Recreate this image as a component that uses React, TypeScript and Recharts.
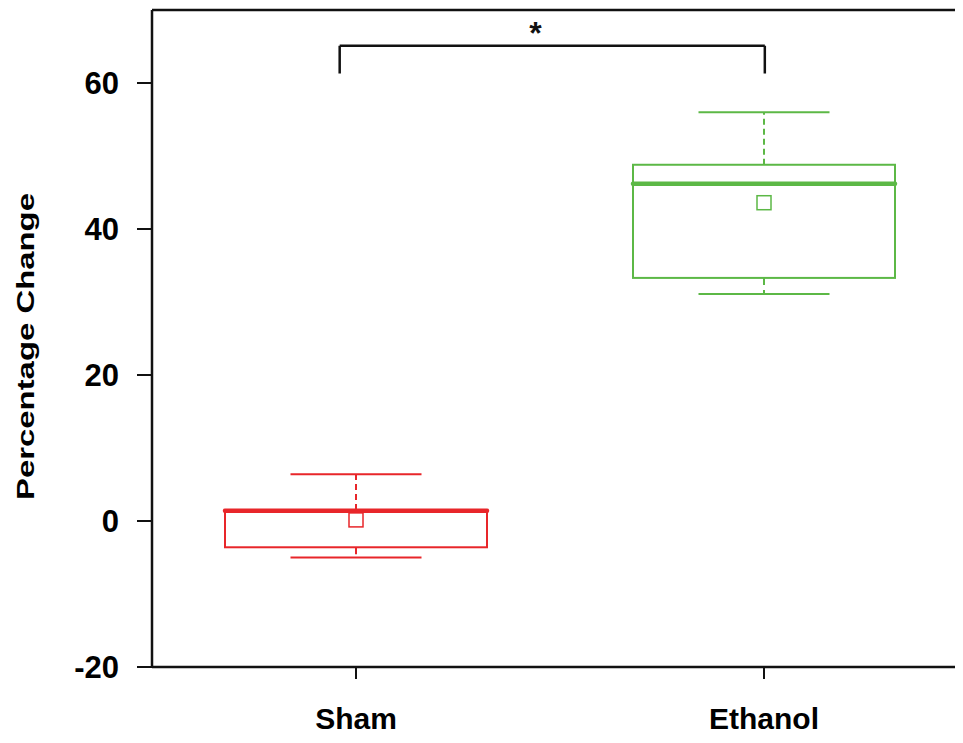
import React from 'react';
import { ComposedChart, Bar, XAxis, YAxis, ReferenceLine, ReferenceDot, Label } from 'recharts';

const categories = ['Sham', 'Ethanol'];
const categoryPos = [0.5, 1.5];
const whiskerLow = [-5.0, 31.1];
const q1 = [-3.6, 33.3];
const median = [1.4, 46.2];
const q3 = [1.5, 48.8];
const whiskerHigh = [6.4, 56.0];
const means = [0.15, 43.6];
const colors = ['#E8262A', '#5CB846'];
const yTicks = [-20, 0, 20, 40, 60];
const yDomain = [-20, 70];
const posDomain = [0, 2];

const bracketX = [0.46, 1.502];
const bracketY = 65.1;
const bracketLegY = 61.3;
const starX = 0.94;
const starY = 65.4;

const data = categories.map((name, i) => ({
  name,
  pos: categoryPos[i],
  range: [whiskerLow[i], whiskerHigh[i]],
  low: whiskerLow[i],
  high: whiskerHigh[i],
  q1: q1[i],
  q3: q3[i],
  median: median[i],
  mean: means[i],
  color: colors[i],
}));

const FONT = '"Liberation Sans", Arial, Helvetica, sans-serif';

const BoxShape = (props: any) => {
  const { x, y, width, height } = props;
  const p = props.payload ?? props;
  const top = Math.min(y, y + height);
  const bot = Math.max(y, y + height);
  const hi = p.high;
  const lo = p.low;
  const pix = (v: number) => top + ((hi - v) / (hi - lo)) * (bot - top);
  const cx = x + width / 2;
  const c = p.color;
  const capW = width / 2;
  const yQ1 = pix(p.q1);
  const yQ3 = pix(p.q3);
  const yMed = pix(p.median);
  const yMean = pix(p.mean);
  const yHi = pix(hi);
  const yLo = pix(lo);
  const sq = 14;
  return (
    <g>
      <rect x={x} y={yQ3} width={width} height={yQ1 - yQ3} fill="none" stroke={c} strokeWidth={2} />
      <line x1={cx} x2={cx} y1={yQ3} y2={yHi} stroke={c} strokeWidth={2} strokeDasharray="6 4" />
      <line x1={cx} x2={cx} y1={yQ1} y2={yLo} stroke={c} strokeWidth={2} strokeDasharray="7 5" />
      <line x1={cx - capW / 2} x2={cx + capW / 2} y1={yHi} y2={yHi} stroke={c} strokeWidth={2} />
      <line x1={cx - capW / 2} x2={cx + capW / 2} y1={yLo} y2={yLo} stroke={c} strokeWidth={2} />
      <line x1={x} x2={x + width} y1={yMed} y2={yMed} stroke={c} strokeWidth={4.5} strokeLinecap="round" />
      <rect x={cx - sq / 2} y={yMean - sq / 2} width={sq} height={sq} fill="none" stroke={c} strokeWidth={1.5} />
    </g>
  );
};

const axisStroke = { stroke: '#111', strokeWidth: 2.5 };
const tickStroke = { stroke: '#111', strokeWidth: 2 };

export default function App() {
  return (
    <div style={{ width: 955, height: 735, marginBottom: -8, overflow: 'hidden' }}>
      <ComposedChart width={960} height={735} data={data} margin={{ top: 2, right: 0, bottom: 0, left: 0 }}>
        <XAxis
          xAxisId="cat"
          dataKey="name"
          type="category"
          height={76}
          tickSize={12}
          tickMargin={29}
          axisLine={axisStroke}
          tickLine={tickStroke}
          tick={{ fill: '#000', fontSize: 30, fontWeight: 'bold', fontFamily: FONT }}
        />
        <XAxis xAxisId="num" dataKey="pos" type="number" domain={posDomain} allowDataOverflow hide />
        <YAxis
          yAxisId="y"
          type="number"
          domain={yDomain}
          ticks={yTicks}
          allowDataOverflow
          width={144}
          tickSize={15}
          tickMargin={18}
          axisLine={axisStroke}
          tickLine={tickStroke}
          tick={{ fill: '#000', fontSize: 31, fontWeight: 'bold', fontFamily: FONT }}
        >
          <Label
            content={(lp: any) => {
              const vb = lp.viewBox || {};
              const lx = 17;
              const ly = (vb.y ?? 2) + (vb.height ?? 657) / 2 + 8;
              return (
                <text
                  x={lx}
                  y={ly}
                  transform={`rotate(-90 ${lx} ${ly})`}
                  textAnchor="middle"
                  dominantBaseline="central"
                  fontFamily={FONT}
                  fontWeight="bold"
                  fontSize={24}
                  fill="#000"
                  textLength={307}
                  lengthAdjust="spacingAndGlyphs"
                >
                  Percentage Change
                </text>
              );
            }}
          />
        </YAxis>
        <ReferenceLine xAxisId="cat" yAxisId="y" y={yDomain[1]} stroke="#111" strokeWidth={2.5} />
        <Bar
          xAxisId="cat"
          yAxisId="y"
          dataKey="range"
          barSize={262}
          shape={BoxShape}
          isAnimationActive={false}
        />
        <ReferenceLine
          xAxisId="num"
          yAxisId="y"
          segment={[{ x: bracketX[0], y: bracketY }, { x: bracketX[1], y: bracketY }]}
          stroke="#111"
          strokeWidth={2.5}
        />
        <ReferenceLine
          xAxisId="num"
          yAxisId="y"
          segment={[{ x: bracketX[0], y: bracketY }, { x: bracketX[0], y: bracketLegY }]}
          stroke="#111"
          strokeWidth={2.5}
        />
        <ReferenceLine
          xAxisId="num"
          yAxisId="y"
          segment={[{ x: bracketX[1], y: bracketY }, { x: bracketX[1], y: bracketLegY }]}
          stroke="#111"
          strokeWidth={2.5}
        />
        <ReferenceDot
          xAxisId="num"
          yAxisId="y"
          x={starX}
          y={starY}
          r={1}
          shape={(sp: any) => (
            <text x={sp.cx} y={sp.cy} textAnchor="middle" fontFamily={FONT} fontWeight="bold" fontSize={32} fill="#111">
              *
            </text>
          )}
        />
      </ComposedChart>
    </div>
  );
}
